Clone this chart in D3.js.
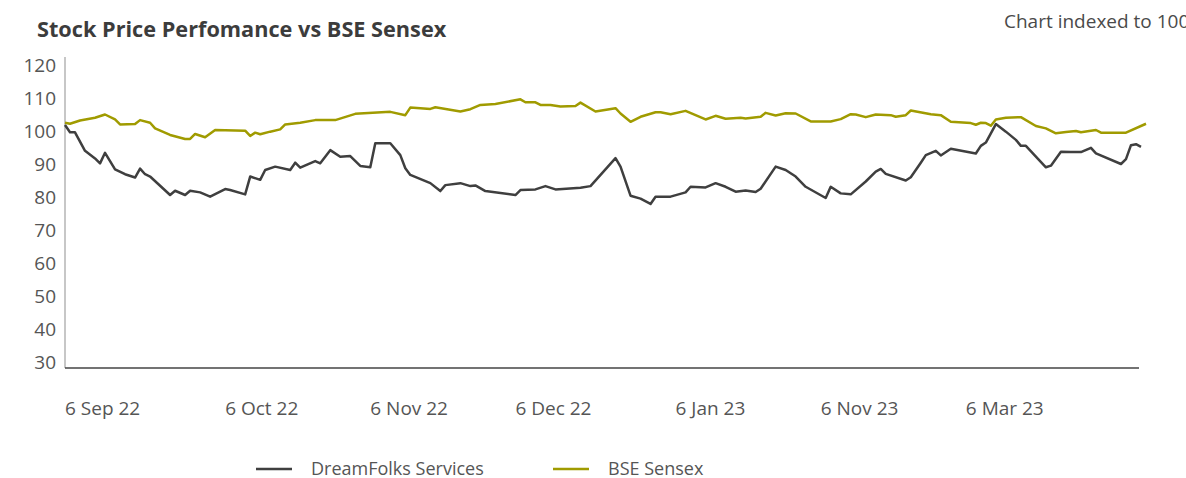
<!DOCTYPE html>
<html>
<head>
<meta charset="utf-8">
<script src="https://cdn.jsdelivr.net/npm/d3@7"></script>
<style>
  html, body { margin: 0; padding: 0; background: #fff; }
  svg { display: block; font-family: "Open Sans", "Noto Sans", sans-serif; }
</style>
</head>
<body>
<svg id="chart" width="1186" height="478"></svg>
<script>
// ---------- DATA ----------
const title = "Stock Price Perfomance vs BSE Sensex";
const note = "Chart indexed to 100";
const xTickLabels = ["6 Sep 22", "6 Oct 22", "6 Nov 22", "6 Dec 22", "6 Jan 23", "6 Nov 23", "6 Mar 23"];
const xTickDays = [0, 32, 61, 90, 122, 151, 180];
const yTicks = [30, 40, 50, 60, 70, 80, 90, 100, 110, 120];
const seriesNames = ["DreamFolks Services", "BSE Sensex"];

const dreamDays = [0,1,2,4,6,7,8,10,12,14,15,16,17,21,22,24,25,27,29,32,33,36,37,39,40,42,45,46,47,50,51,53,55,57,59,61,62,65,67,68,69,73,75,76,79,81,82,84,90,91,94,96,98,103,105,110,111,113,115,117,118,121,124,125,128,130,132,134,136,138,139,142,144,146,148,152,153,155,157,160,162,163,164,168,169,171,172,174,175,177,182,183,184,186,188,190,191,192,196,197,199,201,203,205,206,211,212,213,214,215];
const dreamValues = [101.8,99.6,99.6,94,91.7,90.2,93.4,88.4,86.9,85.9,88.6,86.9,86.2,80.6,81.9,80.6,81.9,81.4,80.1,82.4,82.1,80.8,86.2,85.2,88.2,89.2,88.2,90.4,88.9,90.9,90.2,94.2,92.2,92.4,89.4,89,96.3,96.3,92.7,88.7,86.7,84.2,81.8,83.6,84.2,83.3,83.5,81.8,80.6,82.1,82.3,83.3,82.3,82.8,83.3,91.8,89.2,80.4,79.5,77.9,80.1,80.1,81.4,83.1,82.9,84.2,83.1,81.6,82,81.5,82.5,89.2,88.2,86.2,83.1,79.7,83.1,81.1,80.8,84.7,87.7,88.5,87,85,86,90.4,92.7,94,92.6,94.6,93.2,95.5,96.5,102.1,99.8,97.3,95.5,95.5,89,89.5,93.7,93.6,93.6,94.9,93.2,90,91.5,95.7,96,95.2];

const sensexDays = [0,1,3,6,8,10,11,14,15,17,18,21,24,25,26,28,30,36,37,38,39,41,43,44,47,50,54,58,65,68,69,73,74,79,81,83,86,91,92,94,95,97,99,102,103,106,110,111,113,115,118,119,121,124,128,130,132,135,136,139,140,142,144,146,149,153,155,157,158,160,162,165,166,168,169,173,175,177,181,182,183,184,185,186,188,191,194,196,198,200,202,203,206,207,212,216];
const sensexValues = [102.5,102.2,103.2,104,105,103.5,102,102.1,103.3,102.5,100.8,98.8,97.6,97.6,99.1,98.1,100.3,100.1,98.5,99.5,99,99.8,100.5,102,102.5,103.3,103.3,105.2,105.8,104.8,107.1,106.7,107.2,105.9,106.6,107.9,108.2,109.6,108.7,108.7,107.9,107.9,107.4,107.6,108.6,105.9,106.9,105.3,102.8,104.3,105.7,105.7,105.1,106.1,103.5,104.6,103.7,104,103.8,104.3,105.5,104.7,105.4,105.3,102.9,102.9,103.6,105.1,105,104.2,105,104.8,104.3,104.8,106.2,105.1,104.8,102.8,102.4,101.9,102.5,102.4,101.6,103.5,104,104.2,101.5,100.8,99.3,99.7,100,99.6,100.3,99.5,99.5,102.2];

const colors = ["#3f3f3f", "#a09b00"];

// ---------- LAYOUT ----------
const svg = d3.select("#chart");
const left = 65, right = 1146, axisRight = 1139;
const x = d3.scaleLinear().domain([0, 216]).range([left, right]);
const y = d3.scaleLinear().domain([30, 120]).range([362, 65]);
const axisBottom = y(30) + 6;
const axisTop = y(120) - 8;

// title & note
svg.append("text").attr("x", 37).attr("y", 37)
  .attr("font-size", 21.7).attr("font-weight", 700).attr("fill", "#3c3c3c")
  .text(title);
svg.append("text").attr("x", 1004).attr("y", 28)
  .attr("font-size", 19).attr("fill", "#4a4a4a")
  .text(note);

// y axis labels
svg.append("g").selectAll("text").data(yTicks).join("text")
  .attr("x", 56).attr("y", d => y(d)).attr("dy", "0.35em")
  .attr("text-anchor", "end").attr("font-size", 19).attr("fill", "#555")
  .text(d => d);

// axis lines
svg.append("line").attr("x1", left).attr("x2", left)
  .attr("y1", axisTop).attr("y2", axisBottom)
  .attr("stroke", "#b5b5b5").attr("stroke-width", 1.5);
svg.append("line").attr("x1", left).attr("x2", axisRight)
  .attr("y1", axisBottom).attr("y2", axisBottom)
  .attr("stroke", "#444").attr("stroke-width", 1.5);

// x labels
svg.append("g").selectAll("text").data(xTickDays).join("text")
  .attr("x", d => x(d)).attr("y", 415)
  .attr("font-size", 19).attr("fill", "#555")
  .text((d, i) => xTickLabels[i]);

// lines
const line = d3.line().x(d => x(d[0])).y(d => y(d[1]));
const dream = dreamDays.map((d, i) => [d, dreamValues[i]]);
const sensex = sensexDays.map((d, i) => [d, sensexValues[i]]);

svg.append("path").datum(sensex).attr("d", line)
  .attr("fill", "none").attr("stroke", colors[1]).attr("stroke-width", 2.5)
  .attr("stroke-linejoin", "round");
svg.append("path").datum(dream).attr("d", line)
  .attr("fill", "none").attr("stroke", colors[0]).attr("stroke-width", 2.5)
  .attr("stroke-linejoin", "round");

// legend
const legendX = [256, 553];
const lg = svg.append("g").selectAll("g").data(seriesNames).join("g")
  .attr("transform", (d, i) => `translate(${legendX[i]},469)`);
lg.append("line").attr("x1", 0).attr("x2", 36).attr("y1", 0).attr("y2", 0)
  .attr("stroke", (d, i) => colors[i]).attr("stroke-width", 2.5);
lg.append("text").attr("x", 55).attr("y", 0).attr("dy", "0.35em")
  .attr("font-size", 18).attr("fill", "#555")
  .text(d => d);
</script>
</body>
</html>
